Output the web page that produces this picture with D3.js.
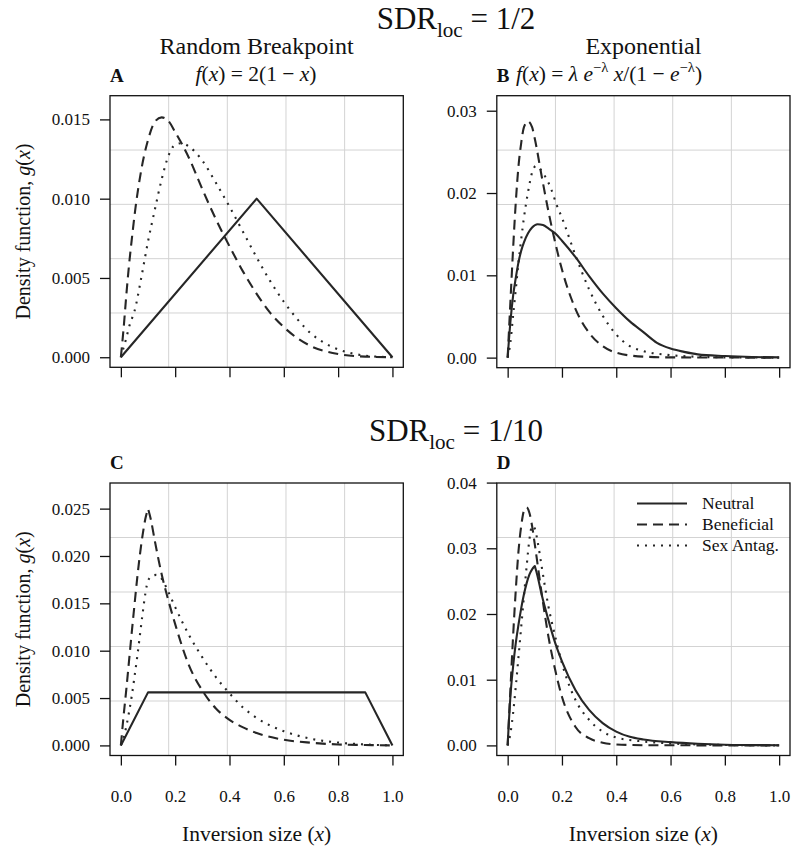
<!DOCTYPE html>
<html><head><meta charset="utf-8">
<script src="https://cdn.jsdelivr.net/npm/d3@7/dist/d3.min.js"></script>
<style>
body{margin:0;background:#fff}
svg, svg text, svg g{font-family:"Liberation Serif","DejaVu Serif",serif}
svg text{fill:#111}
</style>
</head><body>
<svg id="chart" width="791" height="853" font-family="Liberation Serif, DejaVu Serif, serif"></svg>
<script>
// ---------------- DATA ----------------
const xTicks = [0, 0.2, 0.4, 0.6, 0.8, 1.0];
const seriesNames = ["Neutral", "Beneficial", "Sex Antag."];

// Panel A : SDR = 1/2, random breakpoint
const A_neutral_x = [0, 0.5, 1];
const A_neutral   = [0, 0.0100, 0];
const A_benef_x = [0,0.01,0.02,0.03,0.04,0.05,0.075,0.1,0.125,0.15,0.175,0.2,0.25,0.3,0.35,0.4,0.45,0.5,0.55,0.6,0.65,0.7,0.8,0.9,1];
const A_benef   = [0,0.0018,0.0039,0.0058,0.0074,0.0089,0.0118,0.0137,0.01485,0.01513,0.0149,0.0142,0.0126,0.0106,0.0087,0.0070,0.0054,0.0040,0.0028,0.0019,0.0012,0.0007,0.0002,0.00004,0];
const A_sexant_x = [0,0.01,0.02,0.03,0.04,0.05,0.075,0.1,0.125,0.15,0.175,0.2,0.225,0.25,0.3,0.35,0.4,0.45,0.5,0.55,0.6,0.65,0.7,0.75,0.8,0.85,0.9,1];
const A_sexant   = [0,0.0006,0.0012,0.0019,0.0024,0.0029,0.0050,0.0073,0.0093,0.0112,0.0127,0.0134,0.0135,0.0133,0.0124,0.0110,0.0095,0.0079,0.0063,0.0048,0.0035,0.0024,0.0015,0.0009,0.0005,0.00025,0.0001,0];

// Panel B : SDR = 1/2, exponential
const B_neutral_x = [0,0.01,0.02,0.03,0.04,0.05,0.06,0.075,0.09,0.11,0.13,0.15,0.175,0.2,0.25,0.3,0.35,0.4,0.45,0.5,0.55,0.6,0.65,0.7,0.8,0.9,1];
const B_neutral   = [0,0.0043,0.0075,0.0097,0.0116,0.0130,0.0140,0.0151,0.0158,0.0162,0.0161,0.0157,0.0151,0.0142,0.0122,0.0099,0.0078,0.0060,0.0044,0.0031,0.0018,0.0011,0.0007,0.0004,0.0002,0.00008,0.00003];
const B_benef_x = [0,0.01,0.02,0.03,0.04,0.05,0.06,0.075,0.09,0.1,0.125,0.15,0.175,0.2,0.25,0.3,0.35,0.4,0.5,0.6,1];
const B_benef   = [0,0.0067,0.0132,0.0189,0.0233,0.0261,0.0280,0.0287,0.0280,0.0266,0.0221,0.0178,0.0140,0.0107,0.0059,0.0030,0.0014,0.0006,0.00012,0.00003,0];
const B_sexant_x = [0,0.01,0.02,0.03,0.04,0.05,0.06,0.075,0.09,0.105,0.12,0.14,0.16,0.18,0.2,0.25,0.3,0.35,0.4,0.45,0.5,0.6,0.7,0.8,1];
const B_sexant   = [0,0.0018,0.0051,0.0083,0.0116,0.0144,0.0170,0.0201,0.0225,0.0233,0.0229,0.0219,0.0205,0.0186,0.0170,0.0124,0.0083,0.0051,0.0028,0.0014,0.0008,0.0003,0.0001,0.00003,0];

// Panel C : SDR = 1/10, random breakpoint
const C_neutral_x = [0, 0.1, 0.9, 1];
const C_neutral   = [0, 0.0056, 0.0056, 0];
const C_benef_x = [0,0.01,0.02,0.03,0.04,0.05,0.06,0.07,0.08,0.09,0.1,0.11,0.125,0.15,0.175,0.2,0.25,0.3,0.35,0.4,0.45,0.5,0.6,0.7,0.8,0.9,1];
const C_benef   = [0,0.0031,0.0059,0.0089,0.0119,0.0148,0.0176,0.0201,0.0222,0.0239,0.0250,0.0239,0.0216,0.0181,0.0153,0.0128,0.0085,0.0058,0.0039,0.0027,0.0019,0.0013,0.0006,0.00028,0.0001,0.00004,0];
const C_sexant_x = [0,0.01,0.02,0.03,0.04,0.05,0.06,0.07,0.08,0.09,0.1,0.115,0.13,0.15,0.175,0.2,0.25,0.3,0.35,0.4,0.45,0.5,0.55,0.6,0.7,0.8,0.9,1];
const C_sexant   = [0,0.0008,0.0020,0.0035,0.0052,0.0072,0.0093,0.0116,0.0139,0.0160,0.0174,0.0179,0.0180,0.0176,0.0162,0.0146,0.0117,0.0093,0.0072,0.0055,0.0040,0.0029,0.0021,0.0015,0.0007,0.0003,0.0001,0];

// Panel D : SDR = 1/10, exponential
const D_neutral_x = [0,0.01,0.02,0.03,0.04,0.05,0.06,0.07,0.08,0.09,0.1,0.11,0.125,0.15,0.175,0.2,0.25,0.3,0.35,0.4,0.45,0.5,0.6,0.7,0.8,0.9,1];
const D_neutral   = [0,0.0074,0.0120,0.0156,0.0184,0.0209,0.0230,0.0247,0.0260,0.0268,0.0273,0.0258,0.0230,0.0191,0.0156,0.0128,0.0084,0.0054,0.0034,0.0021,0.0013,0.0009,0.0005,0.00025,0.0001,0.00005,0.00002];
const D_benef_x = [0,0.01,0.02,0.03,0.04,0.05,0.06,0.07,0.08,0.09,0.1,0.125,0.15,0.175,0.2,0.25,0.3,0.35,0.4,0.5,1];
const D_benef   = [0,0.0084,0.0166,0.0237,0.0296,0.0334,0.0357,0.0362,0.0354,0.0334,0.0306,0.0232,0.0166,0.0115,0.0074,0.0028,0.0011,0.0004,0.00015,0.00003,0];
const D_sexant_x = [0,0.01,0.02,0.03,0.04,0.05,0.06,0.07,0.08,0.09,0.1,0.11,0.125,0.15,0.175,0.2,0.25,0.3,0.35,0.4,0.5,0.6,0.7,0.8,1];
const D_sexant   = [0,0.0018,0.0049,0.0090,0.0135,0.0181,0.0227,0.0273,0.0313,0.0334,0.0330,0.0311,0.0273,0.0212,0.0166,0.0125,0.0069,0.0039,0.0021,0.0012,0.0006,0.0003,0.00015,0.00007,0];

const yTicksA = [0, 0.005, 0.010, 0.015];
const yTicksB = [0, 0.01, 0.02, 0.03];
const yTicksC = [0, 0.005, 0.010, 0.015, 0.020, 0.025];
const yTicksD = [0, 0.01, 0.02, 0.03, 0.04];

// ---------------- LAYOUT / STYLE ----------------
const SERIF = "Liberation Serif, DejaVu Serif, serif";
const svg = d3.select("#chart");
const INK = "#262626";
const styles = {
  "Neutral":    {dash: null},
  "Beneficial": {dash: "10,6"},
  "Sex Antag.": {dash: "2,6"}
};
const zip = (xs, ys) => xs.map((x, i) => [x, ys[i]]);

const panels = [
  {letter:"A", box:[110,403.3,95.7,367.3], ymax:0.01586, yticks:yTicksA, yfmt:".3f", xlab:false, ylab:true, linearNeutral:true,
   data:{"Neutral":zip(A_neutral_x,A_neutral),"Beneficial":zip(A_benef_x,A_benef),"Sex Antag.":zip(A_sexant_x,A_sexant)}, cusps:{}},
  {letter:"B", box:[496.8,790,95.7,367.7], ymax:0.0306, yticks:yTicksB, yfmt:".2f", xlab:false, ylab:false,
   data:{"Neutral":zip(B_neutral_x,B_neutral),"Beneficial":zip(B_benef_x,B_benef),"Sex Antag.":zip(B_sexant_x,B_sexant)}, cusps:{}},
  {letter:"C", box:[110,403.3,483,755.5], ymax:0.02664, yticks:yTicksC, yfmt:".3f", xlab:true, ylab:true, linearNeutral:true,
   data:{"Neutral":zip(C_neutral_x,C_neutral),"Beneficial":zip(C_benef_x,C_benef),"Sex Antag.":zip(C_sexant_x,C_sexant)}, cusps:{"Beneficial":0.1}},
  {letter:"D", box:[496.8,790,483,755.5], ymax:0.0384, yticks:yTicksD, yfmt:".2f", xlab:true, ylab:false, legend:true,
   data:{"Neutral":zip(D_neutral_x,D_neutral),"Beneficial":zip(D_benef_x,D_benef),"Sex Antag.":zip(D_sexant_x,D_sexant)}, cusps:{"Neutral":0.1}}
];

function rich(parent, x, y, parts, size, anchor) {
  const t = parent.append("text").attr("x", x).attr("y", y).attr("font-family", SERIF)
    .attr("font-size", size).attr("text-anchor", anchor || "start").style("white-space", "pre");
  let shift = 0;
  parts.forEach(p => {
    const s = t.append("tspan").text(p.t);
    if (p.it) s.attr("font-style", "italic");
    if (p.b) s.attr("font-weight", "bold");
    const target = p.sup ? -0.4 * size : p.sub ? 0.25 * size : 0;
    if (target !== shift) { s.attr("dy", target - shift); shift = target; }
    if (p.sup || p.sub) s.attr("font-size", size * 0.68);
  });
  return t;
}

panels.forEach(p => {
  const [L, R, T, B] = p.box;
  const g = svg.append("g");
  const xs = d3.scaleLinear().domain([-0.04, 1.04]).range([L, R]);
  const ys = d3.scaleLinear().domain([-0.04 * p.ymax, 1.04 * p.ymax]).range([B, T]);

  for (let k = 1; k < 5; k++) {
    g.append("line").attr("x1", L + k * (R - L) / 5).attr("x2", L + k * (R - L) / 5)
      .attr("y1", T).attr("y2", B).attr("stroke", "#d3d3d3").attr("stroke-width", 1);
    g.append("line").attr("y1", T + k * (B - T) / 5).attr("y2", T + k * (B - T) / 5)
      .attr("x1", L).attr("x2", R).attr("stroke", "#d3d3d3").attr("stroke-width", 1);
  }

  seriesNames.forEach(name => {
    const pts = p.data[name];
    const curve = (name === "Neutral" && p.linearNeutral) ? d3.curveLinear : d3.curveMonotoneX;
    const line = d3.line().x(d => xs(d[0])).y(d => ys(d[1])).curve(curve);
    let dstr;
    const c = p.cusps[name];
    if (c !== undefined) {
      const s1 = pts.filter(d => d[0] <= c), s2 = pts.filter(d => d[0] >= c);
      dstr = line(s1) + line(s2).replace(/^M/, "L");
    } else dstr = line(pts);
    g.append("path").attr("d", dstr).attr("fill", "none").attr("stroke", INK)
      .attr("stroke-width", 2.1).attr("stroke-linejoin", "round")
      .attr("stroke-dasharray", styles[name].dash);
  });

  g.append("rect").attr("x", L).attr("y", T).attr("width", R - L).attr("height", B - T)
    .attr("fill", "none").attr("stroke", "#111").attr("stroke-width", 1.3);

  const xa = g.append("g").attr("transform", `translate(0,${B})`)
    .call(d3.axisBottom(xs).tickValues(xTicks).tickSize(10).tickSizeOuter(0).tickPadding(24).tickFormat(d3.format(".1f")));
  const ya = g.append("g").attr("transform", `translate(${L},0)`)
    .call(d3.axisLeft(ys).tickValues(p.yticks).tickSize(10).tickSizeOuter(0).tickPadding(10).tickFormat(d3.format(p.yfmt)));
  [xa, ya].forEach(a => {
    a.attr("font-family", SERIF).attr("font-size", 17);
    a.select(".domain").remove();
    a.selectAll(".tick line").attr("stroke", "#111").attr("stroke-width", 1.3);
    a.selectAll("text").attr("font-size", 17).attr("font-family", SERIF).attr("fill", "#111");
  });
  if (!p.xlab) xa.selectAll("text").remove();

  const ly = T < 200 ? 82 : 469;
  g.append("text").attr("x", L).attr("y", ly).attr("font-family", SERIF).attr("font-size", 19).attr("font-weight", "bold").text(p.letter);

  if (p.ylab) {
    const cy = (T + B) / 2;
    const t = rich(g, 0, 0, [{t:"Density function, "},{t:"g",it:true},{t:"("},{t:"x",it:true},{t:")"}], 20, "middle");
    t.attr("transform", `translate(30,${cy}) rotate(-90)`);
  }
  if (p.xlab) {
    rich(g, (L + R) / 2, 841, [{t:"Inversion size ("},{t:"x",it:true},{t:")"}], 21.5, "middle");
  }
  if (p.legend) {
    seriesNames.forEach((name, i) => {
      const yy = 503.5 + i * 21;
      g.append("line").attr("x1", 637).attr("x2", 687).attr("y1", yy).attr("y2", yy)
        .attr("stroke", INK).attr("stroke-width", 2.1).attr("stroke-dasharray", styles[name].dash);
      g.append("text").attr("x", 702).attr("y", yy + 5.5).attr("font-family", SERIF).attr("font-size", 17.5).text(name);
    });
  }
});

rich(svg, 456, 29, [{t:"SDR"},{t:"loc",sub:true},{t:" = 1/2"}], 31, "middle");
rich(svg, 456, 441, [{t:"SDR"},{t:"loc",sub:true},{t:" = 1/10"}], 31, "middle");
svg.append("text").attr("x", 256.6).attr("y", 54).attr("text-anchor", "middle").attr("font-family", SERIF).attr("font-size", 24).text("Random Breakpoint");
svg.append("text").attr("x", 643.4).attr("y", 54).attr("text-anchor", "middle").attr("font-family", SERIF).attr("font-size", 24).text("Exponential");
rich(svg, 256, 81, [{t:"f",it:true},{t:"("},{t:"x",it:true},{t:") = 2(1 − "},{t:"x",it:true},{t:")"}], 21.5, "middle");
rich(svg, 516, 81, [{t:"f",it:true},{t:"("},{t:"x",it:true},{t:") = "},{t:"λ",it:true},{t:" "},{t:"e",it:true},{t:"−λ",sup:true},{t:" "},{t:"x",it:true},{t:"/(1 − "},{t:"e",it:true},{t:"−λ",sup:true},{t:")"}], 21.5, "start");
</script>
</body></html>
